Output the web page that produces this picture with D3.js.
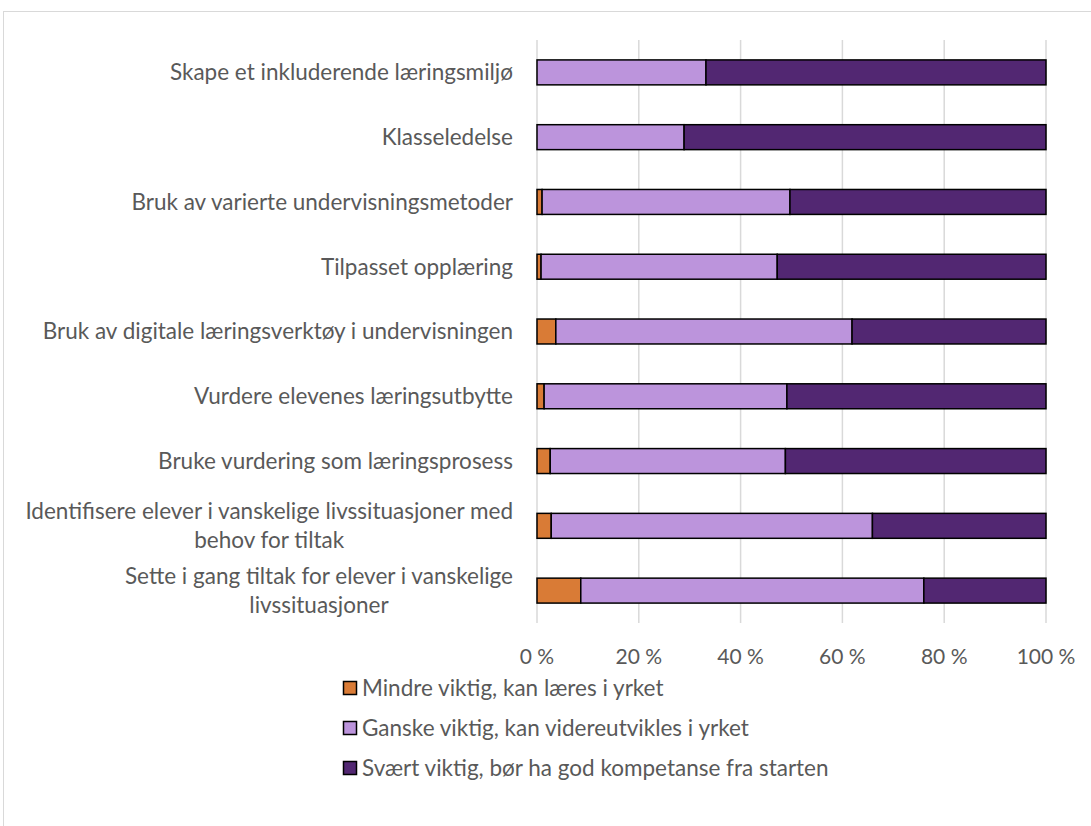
<!DOCTYPE html>
<html lang="no">
<head>
<meta charset="utf-8">
<script src="https://cdn.jsdelivr.net/npm/d3@7"></script>
<style>
body { margin: 0; background: #fff; }
text { font-family: Lato, "Open Sans", sans-serif; fill: #595959; }
.grid line { stroke: #d9d9d9; stroke-width: 1.5; }
.bar { stroke: #000; stroke-width: 1.5; }
</style>
</head>
<body>
<div id="chart"></div>
<script>
var width = 1091, height = 826;

// categories, top to bottom (each line of a label is its own entry)
var categories = [
    ["Skape et inkluderende læringsmiljø"],
    ["Klasseledelse"],
    ["Bruk av varierte undervisningsmetoder"],
    ["Tilpasset opplæring"],
    ["Bruk av digitale læringsverktøy i undervisningen"],
    ["Vurdere elevenes læringsutbytte"],
    ["Bruke vurdering som læringsprosess"],
    ["Identifisere elever i vanskelige livssituasjoner med", "behov for tiltak"],
    ["Sette i gang tiltak for elever i vanskelige", "livssituasjoner"]
];

var seriesNames = [
    "Mindre viktig, kan læres i yrket",
    "Ganske viktig, kan videreutvikles i yrket",
    "Svært viktig, bør ha god kompetanse fra starten"
];
var seriesColors = ["#d97b36", "#bc94dc", "#522772"];

// percent values per category (same order as categories)
var mindre  = [0.0, 0.0, 1.0, 0.8, 3.7, 1.4, 2.6, 2.8, 8.6];
var ganske  = [33.2, 28.9, 48.7, 46.4, 58.2, 47.7, 46.2, 63.1, 67.4];
var svaert  = [66.8, 71.1, 50.3, 52.8, 38.1, 50.9, 51.2, 34.1, 24.0];

var tickValues = [0, 20, 40, 60, 80, 100];

var margin = {left: 537, right: 45, top: 40, bottom: 203};

var svg = d3.select("#chart").append("svg")
    .attr("width", width)
    .attr("height", height);

// chart area border
svg.append("rect")
    .attr("x", 3.5).attr("y", 11.5)
    .attr("width", width + 10).attr("height", height + 10)
    .attr("fill", "none")
    .attr("stroke", "#d9d9d9");

var x = d3.scaleLinear()
    .domain([0, 100])
    .range([margin.left, width - margin.right]);

var y = d3.scaleBand()
    .domain(d3.range(categories.length))
    .range([margin.top, height - margin.bottom])
    .paddingInner(0.615)
    .paddingOuter(0.3075);

// gridlines
svg.append("g")
    .attr("class", "grid")
    .selectAll("line")
    .data(tickValues)
    .enter()
    .append("line")
    .attr("x1", function (d) { return x(d); })
    .attr("x2", function (d) { return x(d); })
    .attr("y1", margin.top)
    .attr("y2", height - margin.bottom);

// x tick labels
svg.append("g")
    .selectAll("text")
    .data(tickValues)
    .enter()
    .append("text")
    .attr("x", function (d) { return x(d); })
    .attr("y", 657)
    .attr("dy", "0.35em")
    .attr("text-anchor", "middle")
    .style("font-size", "21px")
    .text(function (d) { return d + " %"; });

// stacked bars
var rows = categories.map(function (c, i) {
    return {i: i, mindre: mindre[i], ganske: ganske[i], svaert: svaert[i]};
});
var stack = d3.stack().keys(["mindre", "ganske", "svaert"]);
var layers = stack(rows);

svg.append("g")
    .selectAll("g")
    .data(layers)
    .enter()
    .append("g")
    .attr("fill", function (d, k) { return seriesColors[k]; })
    .selectAll("rect")
    .data(function (d) { return d.filter(function (p) { return p[1] - p[0] > 0; }); })
    .enter()
    .append("rect")
    .attr("class", "bar")
    .attr("x", function (d) { return x(d[0]); })
    .attr("width", function (d) { return x(d[1]) - x(d[0]); })
    .attr("y", function (d) { return y(d.data.i); })
    .attr("height", y.bandwidth());

// category labels: block right-aligned, lines centred on each other
var lineH = 29;
var labelRight = 513;
var labels = svg.append("g").style("font-size", "22.5px");
categories.forEach(function (lines, i) {
    var cy = y(i) + y.bandwidth() / 2;
    var g = labels.append("g");
    var texts = g.selectAll("text")
        .data(lines)
        .enter()
        .append("text")
        .attr("y", function (d, j) { return cy + (j - (lines.length - 1) / 2) * lineH; })
        .attr("dy", "0.35em")
        .text(function (d) { return d; });
    var maxW = 0;
    texts.each(function () { maxW = Math.max(maxW, this.getComputedTextLength()); });
    texts.attr("text-anchor", "middle").attr("x", labelRight - maxW / 2);
});

// legend
var legend = svg.append("g")
    .selectAll("g")
    .data(seriesNames)
    .enter()
    .append("g")
    .attr("transform", function (d, k) { return "translate(343," + (688 + k * 40) + ")"; });

legend.append("rect")
    .attr("x", 0.5).attr("y", -6.5)
    .attr("width", 13).attr("height", 13)
    .attr("fill", function (d, k) { return seriesColors[k]; })
    .attr("stroke", "#000")
    .attr("stroke-width", 1.5);

legend.append("text")
    .attr("x", 19)
    .attr("dy", "0.35em")
    .style("font-size", "22.5px")
    .text(function (d) { return d; });
</script>
</body>
</html>
